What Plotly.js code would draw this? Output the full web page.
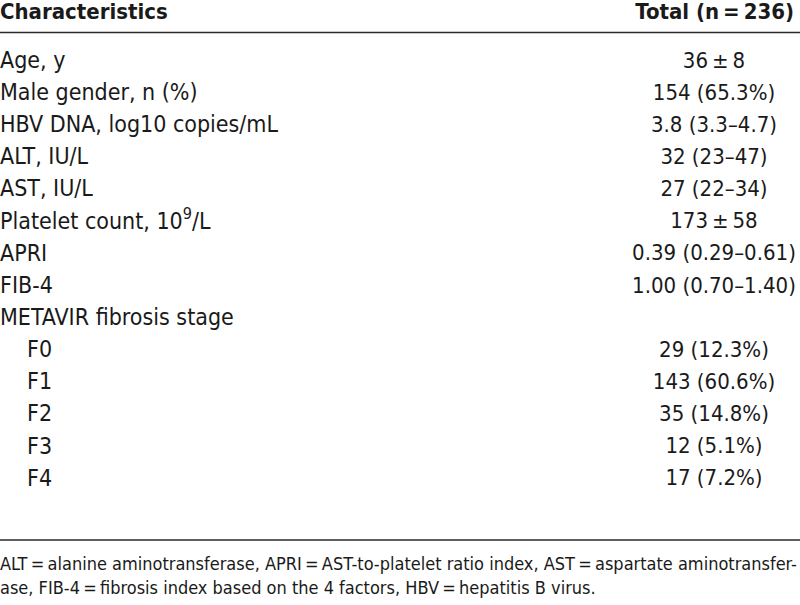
<!DOCTYPE html>
<html>
<head>
<meta charset="utf-8">
<script src="https://cdn.plot.ly/plotly-3.0.1.min.js"></script>
<style>html,body{margin:0;padding:0;background:#fff;}#chart{width:800px;height:605px;}</style>
</head>
<body>
<div id="chart"></div>
<script>
const headers = ["Characteristics", "Total (n\u2009=\u2009236)"];
const characteristics = [
  "Age, y",
  "Male gender, n (%)",
  "HBV DNA, log10 copies/mL",
  "ALT, IU/L",
  "AST, IU/L",
  "Platelet count, 10<sup>9</sup>/L",
  "APRI",
  "FIB-4",
  "METAVIR fibrosis stage",
  "F0",
  "F1",
  "F2",
  "F3",
  "F4"
];
const indented = [false,false,false,false,false,false,false,false,false,true,true,true,true,true];
const totals = [
  "36\u2009\u00b1\u20098",
  "154 (65.3%)",
  "3.8 (3.3\u20134.7)",
  "32 (23\u201347)",
  "27 (22\u201334)",
  "173\u2009\u00b1\u200958",
  "0.39 (0.29\u20130.61)",
  "1.00 (0.70\u20131.40)",
  null,
  "29 (12.3%)",
  "143 (60.6%)",
  "35 (14.8%)",
  "12 (5.1%)",
  "17 (7.2%)"
];
const footnotes = [
  "ALT\u2009=\u2009alanine aminotransferase, APRI\u2009=\u2009AST-to-platelet ratio index, AST\u2009=\u2009aspartate aminotransfer-",
  "ase, FIB-4\u2009=\u2009fibrosis index based on the 4 factors, HBV\u2009=\u2009hepatitis B virus."
];

const FONT = '"Liberation Sans Narrow", "DejaVu Sans Condensed", "Liberation Sans", sans-serif';
const COLOR = '#1a1a1a';
const rowY0 = 62, rowStep = 32.15;
const rowY = characteristics.map((_, i) => rowY0 + i * rowStep);
const valIdx = totals.map((t, i) => i).filter(i => totals[i] !== null);

const traces = [
  { type: 'scatter', mode: 'text', x: [0], y: [13], text: ['<b>' + headers[0] + '</b>'],
    textposition: 'middle right', textfont: {family: FONT, size: 22, color: COLOR}, hoverinfo: 'skip' },
  { type: 'scatter', mode: 'text', x: [794], y: [13], text: ['<b>' + headers[1] + '</b>'],
    textposition: 'middle left', textfont: {family: FONT, size: 22, color: COLOR}, hoverinfo: 'skip' },
  { type: 'scatter', mode: 'text', x: characteristics.map((_, i) => indented[i] ? 27 : 0), y: rowY,
    text: characteristics, textposition: 'middle right',
    textfont: {family: FONT, size: 23, color: COLOR}, hoverinfo: 'skip' },
  { type: 'scatter', mode: 'text', x: valIdx.map(() => 714), y: valIdx.map(i => rowY[i]),
    text: valIdx.map(i => totals[i]), textposition: 'middle center',
    textfont: {family: FONT, size: 22, color: COLOR}, hoverinfo: 'skip' },
  { type: 'scatter', mode: 'text', x: [0, 0], y: [565, 589],
    text: footnotes, textposition: 'middle right',
    textfont: {family: FONT, size: 18, color: COLOR}, hoverinfo: 'skip' }
];

const layout = {
  width: 800, height: 605,
  margin: {l: 0, r: 0, t: 0, b: 0, pad: 0},
  paper_bgcolor: '#ffffff', plot_bgcolor: '#ffffff',
  showlegend: false,
  xaxis: {range: [0, 800], visible: false, fixedrange: true},
  yaxis: {range: [605, 0], visible: false, fixedrange: true},
  shapes: [
    {type: 'line', xref: 'paper', x0: 0, x1: 1, yref: 'y', y0: 32.5, y1: 32.5, line: {color: '#2a2a2a', width: 1.5}},
    {type: 'line', xref: 'paper', x0: 0, x1: 1, yref: 'y', y0: 540, y1: 540, line: {color: '#2a2a2a', width: 1.5}}
  ]
};

Plotly.newPlot('chart', traces, layout, {staticPlot: true, displayModeBar: false});
</script>
</body>
</html>
